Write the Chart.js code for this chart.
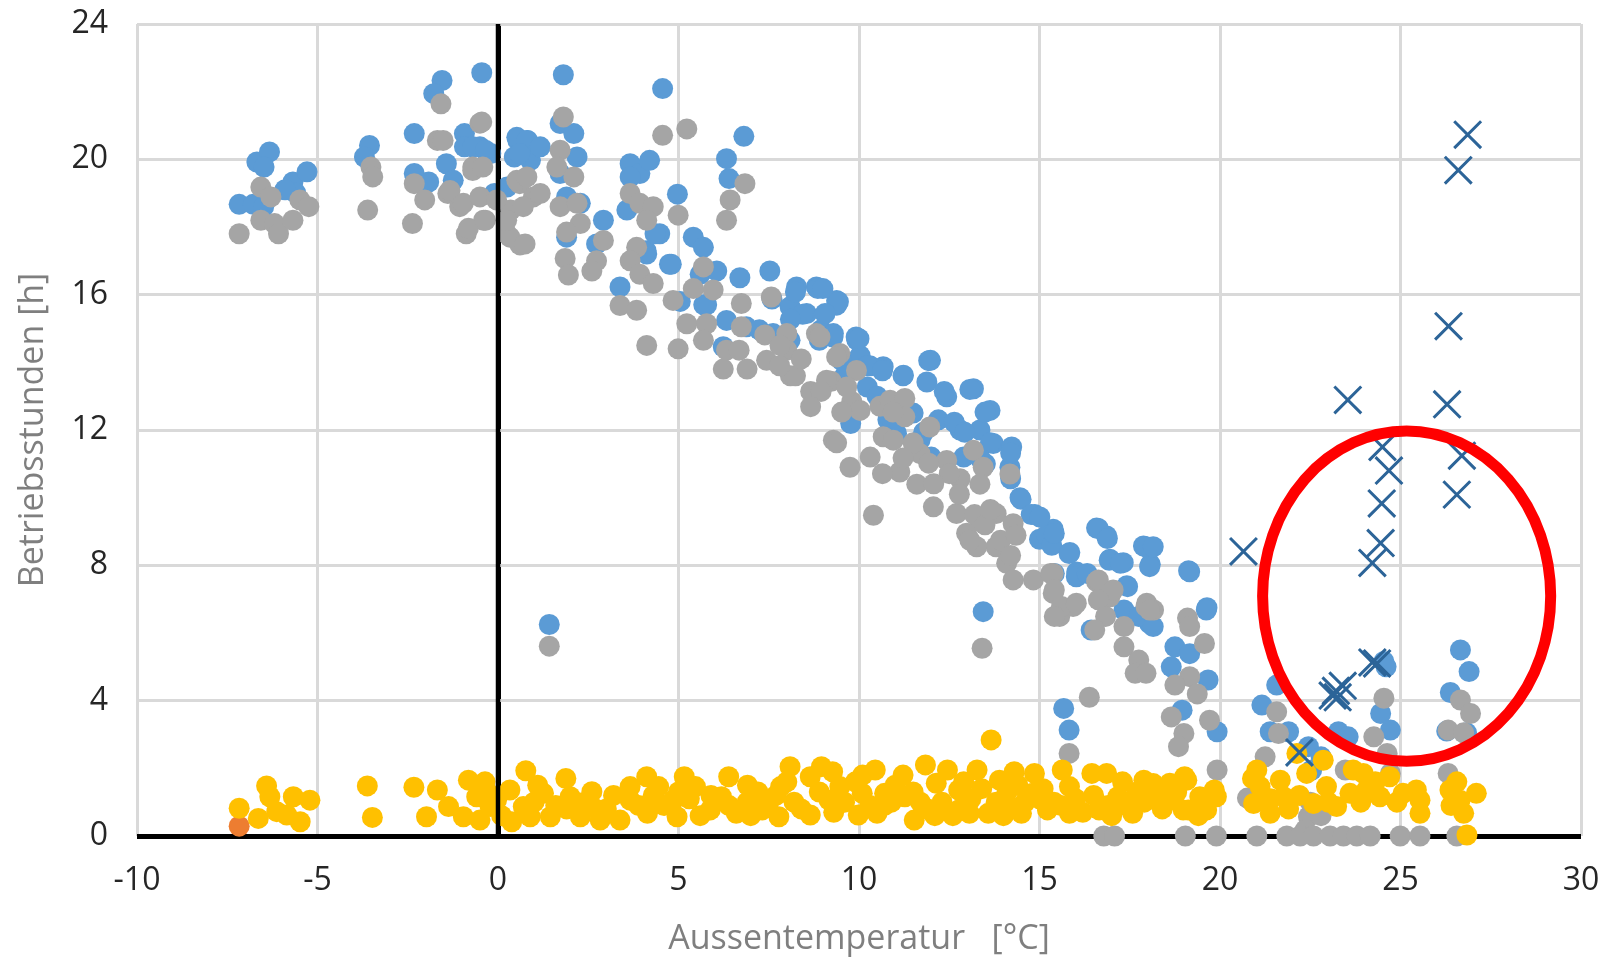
<!DOCTYPE html>
<html>
<head>
<meta charset="utf-8">
<script src="https://cdn.jsdelivr.net/npm/chart.js@4.4.1/dist/chart.umd.min.js"></script>
<style>
  html, body { margin: 0; padding: 0; background: #fff; }
  #wrap { width: 1610px; height: 962px; }
</style>
</head>
<body>
<div id="wrap"><canvas id="chart"></canvas></div>
<script>
// tick labels
const xTicks = [-10, -5, 0, 5, 10, 15, 20, 25, 30];
const yTicks = [0, 4, 8, 12, 16, 20, 24];

// [Aussentemperatur, Betriebsstunden]
const bluePoints = [
  [-7.17,18.67],[-6.78,18.67],[-6.49,18.6],[-6.68,19.92],[-6.33,20.22],[-6.48,19.77],[-5.68,19.33],[-5.29,19.63],[-5.6,19.0],[-5.9,19.1],
  [-3.56,20.41],[-3.7,20.07],[-2.32,20.76],[-2.32,19.58],[-1.92,19.33],[-1.55,22.33],[-1.78,21.94],[-1.43,19.87],
  [-0.93,20.76],[-0.93,20.37],[-0.5,20.37],[-0.2,20.17],[0.25,19.18],[0.55,20.56],[0.82,20.56],[0.45,20.07],[0.9,19.97],[-0.45,22.56],
  [-1.24,19.38],[-0.1,18.99],[-0.7,20.37],[-0.35,20.27],[0.52,20.65],[0.8,20.56],[0.6,20.17],[1.17,20.37],[1.72,21.06],[2.1,20.76],
  [2.19,20.07],[1.72,19.58],[1.9,18.89],[2.28,18.7],[2.92,18.2],[2.73,17.5],[1.9,17.7],[1.81,22.5],
  [3.66,19.87],[3.93,19.58],[4.2,19.97],[3.66,19.48],[3.57,18.5],[4.48,17.8],[4.12,17.2],[4.75,16.9],[5.41,17.7],[5.69,17.4],
  [5.6,16.6],[6.06,16.7],[3.38,16.23],[5.05,15.8],[5.78,15.7],[6.7,16.5],[7.53,16.7],[8.27,16.23],[8.82,16.23],[9.38,15.83],
  [8.09,15.64],[8.55,15.44],[6.33,15.24],[6.88,15.05],[7.62,14.85],[8.09,14.65],[8.9,14.65],[9.28,14.75],[9.92,14.75],[6.24,14.46],
  [4.56,22.09],[6.81,20.68],[6.33,20.02],[6.4,19.43],[4.97,18.97],[4.1,17.3],[4.35,17.8],[4.8,16.9],[5.7,15.7],
  [7.59,15.87],[8.24,16.08],[8.86,16.18],[8.44,15.42],[9.38,15.69],[7.24,14.96],[8.1,15.27],[8.95,14.96],[9.94,14.66],[10.03,14.2],[9.52,14.05],
  [9.43,15.79],[9.0,16.18],[9.06,15.44],[9.29,14.85],[10.0,14.7],[10.67,13.87],[11.23,13.62],[11.98,14.06],[11.88,13.42],[12.43,12.98],
  [13.17,13.22],[13.63,12.58],[12.8,12.0],[13.35,12.0],[13.72,11.6],[14.23,11.5],[14.18,10.9],[14.46,10.0],[14.87,9.5],[15.38,9.07],
  [15.84,8.38],[15.0,8.77],[16.03,7.8],[16.58,9.1],[16.86,8.87],[16.95,8.18],[17.32,8.08],[17.88,8.57],[18.07,8.03],[19.13,7.84],
  [19.64,6.75],[17.42,7.4],[13.44,6.63],[11.04,11.9],[11.69,11.7],[9.77,12.19],[10.23,13.27],
  [10.5,13.0],[11.0,12.8],[11.5,12.5],[12.2,12.3],[12.9,11.2],[13.5,11.0],[12.0,11.2],[10.8,12.3],[9.6,13.6],[10.3,13.9],
  [10.23,13.9],[10.65,13.75],[11.22,13.6],[11.93,14.05],[12.36,13.14],[13.07,13.2],[12.64,12.23],[13.49,12.53],[13.64,11.62],[14.2,11.32],
  [14.2,10.56],[14.49,9.95],[14.77,9.5],[15.2,8.89],[15.34,8.59],[11.79,11.93],[12.93,11.93],[13.35,11.17],[10.94,12.23],
  [15.01,9.43],[15.41,8.94],[15.82,8.35],[16.02,7.66],[16.63,9.09],[16.88,8.79],[16.93,8.15],[17.24,8.06],[17.95,8.55],[18.05,7.96],
  [19.16,7.81],[17.44,7.37],[16.43,6.09],[15.67,3.77],[15.82,3.13],[18.75,5.59],[19.16,5.39],[18.65,5.0],[19.62,6.68],[19.67,4.61],
  [18.95,3.72],[19.92,3.08],[18.05,6.28],[17.34,6.68],[17.75,6.49],[16.32,7.76],[15.41,7.76],[18.15,8.55],[18.15,6.19],
  [21.57,4.46],[21.16,3.87],[21.39,3.08],[21.9,3.08],[22.45,2.64],[23.28,3.08],[23.55,2.93],[22.8,2.34],[24.54,5.16],[24.6,5.0],
  [24.45,3.62],[24.72,3.13],[26.66,5.5],[26.9,4.86],[26.38,4.24],[26.28,3.1],[26.83,3.05],[22.54,1.95],[1.42,6.25]
];

const grayPoints = [
  [-7.17,17.8],[-6.57,19.18],[-6.29,18.89],[-6.57,18.2],[-6.19,18.1],[-6.08,17.8],[-5.68,18.2],[-5.49,18.8],[-5.24,18.6],
  [-3.52,19.77],[-3.47,19.48],[-3.61,18.5],[-2.32,19.28],[-2.03,18.8],[-2.37,18.1],[-1.68,20.56],[-1.58,21.64],[-1.39,18.99],
  [-1.06,18.6],[-0.88,17.8],[-0.7,19.67],[-0.5,21.07],[-0.4,18.2],[0.24,17.8],[0.61,17.47],[0.35,18.5],[0.6,19.28],[0.98,18.89],
  [-1.52,20.56],[-0.45,21.1],[1.81,21.25],[4.56,20.71],[5.23,20.9],[6.84,19.28],[6.43,18.8],[6.33,18.2],[4.99,18.35],[-0.7,19.77],
  [-0.42,19.77],[-1.33,19.08],[-0.96,18.7],[-0.82,17.96],[-0.35,18.2],[-0.5,18.89],[-0.04,18.8],[0.33,17.7],[0.75,17.5],[0.52,19.38],
  [0.8,19.48],[1.17,18.99],[0.7,18.6],[0.24,18.2],[1.72,20.27],[1.63,19.77],[2.1,19.48],[1.72,18.6],[2.19,18.7],[2.28,18.1],
  [1.9,17.85],[2.92,17.6],[1.86,17.07],[1.95,16.58],[2.73,17.0],[2.6,16.7],[3.66,18.99],[3.93,18.7],[4.3,18.6],[4.12,18.2],
  [3.84,17.4],[3.66,17.0],[3.93,16.6],[4.3,16.33],[3.38,15.68],[3.84,15.54],[4.12,14.5],[4.99,14.4],[4.85,15.83],[5.41,16.18],
  [5.69,16.82],[5.96,16.14],[5.23,15.14],[5.78,15.14],[5.69,14.65],[6.74,15.74],[6.74,15.05],[7.57,15.93],[6.33,14.36],[8.0,14.85],
  [8.82,14.85],[9.47,14.26],[8.0,14.36],[7.44,14.06],[6.9,13.8],[6.24,13.8],
  [6.68,14.36],[7.39,14.81],[7.81,14.5],[8.1,13.6],[8.66,13.14],[9.23,13.44],[9.8,12.84],
  [8.92,14.75],[9.38,14.16],[9.93,13.76],[9.1,13.47],[9.66,13.27],[10.03,12.58],[9.29,11.7],[9.75,10.9],[10.4,9.48],[10.31,11.2],
  [10.67,11.8],[10.58,12.7],[10.86,12.88],[11.27,12.93],[11.27,12.39],[10.95,11.7],[11.13,10.76],[11.69,11.3],[11.96,12.09],[11.6,10.4],
  [12.06,9.73],[12.43,11.1],[12.8,10.56],[13.17,11.4],[13.44,10.9],[13.35,10.4],[14.18,10.7],[12.7,9.53],[12.98,8.95],[13.35,9.3],
  [13.8,9.53],[14.27,9.23],[13.8,8.55],[13.26,8.55],[14.09,8.06],[14.27,7.57],[14.83,7.57],[15.38,7.76],[15.38,7.17],[15.93,6.78],
  [16.58,7.52],[16.95,7.07],[17.97,6.88],[18.16,6.68],[15.56,6.49],[19.1,6.44],
  [8.95,13.14],[9.52,12.53],[9.38,11.62],[8.24,13.6],[8.66,12.69],[8.4,14.1],[7.8,13.9],
  [10.94,12.53],[11.5,11.62],[11.93,11.02],[12.5,10.71],[12.78,10.1],[13.2,9.5],[13.49,9.2],[13.92,8.74],[14.2,8.29],[11.22,11.17],
  [10.65,10.71],[13.07,8.74],[12.07,10.41],[13.64,9.65],[14.35,8.89],
  [15.31,7.76],[15.41,7.27],[15.61,6.78],[16.02,6.88],[15.41,6.49],[16.38,4.1],[15.82,2.44],[16.63,7.57],[17.04,7.27],[16.63,6.98],
  [16.83,6.49],[16.53,6.09],[17.34,6.19],[17.34,5.59],[17.75,5.2],[17.65,4.81],[17.95,4.81],[17.95,6.78],[18.05,6.68],[19.16,6.19],
  [19.57,5.69],[19.16,4.71],[18.75,4.46],[19.37,4.2],[18.65,3.52],[19.71,3.42],[19.0,3.03],[18.85,2.64],[19.92,1.95],
  [20.76,1.12],[21.57,3.67],[21.62,3.03],[21.25,2.34],[24.54,4.07],[24.26,2.93],[24.63,2.44],[24.72,1.85],[26.66,4.02],[26.94,3.62],
  [26.32,3.13],[26.75,3.05],[26.32,1.85],[23.47,1.95],[22.45,0.57],[22.36,0.18],[22.5,1.0],[22.8,0.6],
  [16.78,0],[17.08,0],[19.04,0],[19.9,0],[21.02,0],[21.85,0],[22.22,0],[22.59,0],[23.05,0],[23.42,0],[23.79,0],[24.16,0],
  [24.99,0],[25.54,0],[26.56,0],[1.42,5.61],[13.41,5.55]
];

const yellowPoints = [
  [-7.17,0.82],[-6.41,1.48],[-6.32,1.16],[-6.64,0.52],[-6.13,0.72],[-5.67,1.16],[-5.21,1.06],[-5.48,0.42],[-5.85,0.62],[-3.62,1.48],
  [-3.48,0.55],[-2.33,1.44],[-1.68,1.36],[-1.98,0.57],[-1.37,0.87],[-0.82,1.65],[-0.36,1.6],[-0.59,1.16],[-0.96,0.57],[-0.5,0.47],
  [0.33,1.36],[0.38,0.42],[0.77,1.93],[1.26,1.26],[0.89,0.57],[1.45,0.57],[1.88,1.7],[2.0,1.16],[2.6,1.31],[2.28,0.57],
  [2.83,0.47],[3.38,0.47],[3.66,1.46],[3.66,1.06],[4.12,1.75],[-0.22,0.87],[-0.04,1.06],[0.7,0.87],
  [4.45,1.46],[4.14,0.67],[4.96,0.57],[5.16,1.75],[5.47,1.46],[4.86,1.06],[5.88,0.77],[6.39,1.75],[6.19,1.16],[6.91,1.5],
  [6.6,0.67],[7.32,0.77],[7.78,0.57],[7.83,1.46],[8.09,2.05],[8.65,1.75],[8.96,2.05],[9.27,1.9],[8.65,0.62],[9.47,1.46],
  [9.17,1.06],[10.09,1.26],[9.98,0.62],[10.45,1.95],[10.71,1.26],[10.5,0.67],[11.22,1.8],[11.27,1.16],[11.53,0.47],[11.84,2.1],
  [12.14,1.56],[12.45,1.95],[12.76,1.36],[12.76,0.77],[13.06,0.67],[13.27,1.95],[13.58,0.67],[13.66,2.84],[13.89,1.65],[14.19,0.87],
  [14.3,1.9],[14.5,0.67],[14.86,1.85],[14.81,1.26],[15.22,0.77],[15.63,1.95],[15.83,1.46],[15.83,0.67],[16.45,1.85],[16.65,0.77],
  [16.86,1.85],[17.17,1.16],[17.58,0.67],[17.89,1.65],[18.1,1.16],[18.61,1.56],[19.02,1.75],[19.12,0.77],[19.63,1.06],[19.84,1.36],
  [18.15,1.55],[18.61,1.06],[19.08,1.65],[18.98,0.77],[19.44,1.16],[19.9,1.16],[19.63,0.77],[21.02,1.95],[20.93,0.96],[21.11,1.46],
  [21.39,0.67],[21.67,1.65],[21.76,1.16],[22.13,2.44],[22.4,1.85],[22.86,2.24],[22.59,0.96],[22.95,1.46],[23.23,0.87],[23.6,1.26],
  [23.69,1.95],[23.97,1.85],[24.06,1.36],[24.43,1.16],[24.7,1.75],[25.07,1.26],[25.44,1.36],[25.54,0.67],[25.54,1.06],[26.37,1.36],
  [26.65,1.06],[27.1,1.26],[26.75,0.67],[26.84,0.03],[26.56,1.6],
  [1.0,1.0],[1.6,0.9],[2.4,1.0],[3.0,0.8],[3.2,1.2],[4.6,0.9],[5.3,1.1],[5.6,0.6],[6.9,1.0],[7.2,1.3],
  [7.5,1.0],[8.2,1.0],[8.4,0.8],[8.9,1.3],[9.6,1.0],[9.9,1.6],[10.3,0.9],[10.9,1.0],[11.5,1.3],[11.9,0.8],
  [12.3,1.0],[12.6,0.6],[13.1,1.1],[13.4,1.4],[13.8,1.0],[14.1,1.3],[14.6,1.0],[15.1,1.4],[15.4,1.0],[16.0,1.1],
  [16.2,0.7],[16.9,0.9],[17.3,1.6],[17.4,0.9],[17.9,1.0],[18.4,0.8],[20.9,1.7],[21.4,1.1],[21.9,0.8],[22.2,1.2],
  [23.0,1.0],[23.9,1.0],[24.3,1.6],[24.9,1.0],[26.4,0.9],
  [-0.3,1.3],[0.1,0.6],[1.1,1.5],[1.9,0.8],[2.7,0.8],[3.9,0.9],[4.3,1.2],[5.0,1.3],[5.9,1.2],[6.4,0.9],
  [7.0,0.6],[7.7,1.2],[8.0,1.6],[9.3,0.7],[10.1,1.8],[10.7,0.9],[11.0,1.5],[11.7,1.0],[12.1,0.6],[12.9,1.6],
  [14.0,0.6],[14.4,1.5],[15.0,1.1],[15.6,0.9],[16.5,1.2],[17.0,0.6],[17.7,1.3],[18.3,1.3],[18.8,1.3],[19.4,0.6]
];

const orangePoints = [[-7.17,0.29]];

const crossPoints = [
  [26.86,20.73],[26.6,19.68],[26.33,15.07],[26.29,12.76],[23.54,12.89],[24.5,11.5],[24.68,10.8],[26.7,11.24],[24.48,9.83],[26.56,10.09],
  [24.45,8.66],[24.22,8.07],[20.65,8.41],[24.22,5.13],[24.35,5.1],[23.21,4.29],[23.12,4.15],[23.4,4.44],[23.26,4.1],[22.2,2.47]
];

// red ring drawn around the cooling-season crosses (data units)
const highlight = { x: 25.17, y: 7.09, rx: 3.99, ry: 4.88 };

const toXY = pts => pts.map(p => ({ x: p[0], y: p[1] }));

const fontFamily = "'Open Sans', 'Liberation Sans', sans-serif";

const overlay = {
  id: 'overlay',
  afterDatasetsDraw(chart) {
    const { ctx, chartArea, scales: { x, y } } = chart;
    ctx.save();
    // vertical axis at 0 °C sits on top of the points
    const x0 = x.getPixelForValue(0);
    ctx.strokeStyle = '#000';
    ctx.lineWidth = 4.5;
    ctx.beginPath();
    ctx.moveTo(x0, chartArea.top);
    ctx.lineTo(x0, chartArea.bottom);
    ctx.stroke();

    const cx = x.getPixelForValue(highlight.x);
    const cy = y.getPixelForValue(highlight.y);
    const rx = Math.abs(x.getPixelForValue(highlight.x + highlight.rx) - cx);
    const ry = Math.abs(y.getPixelForValue(highlight.y + highlight.ry) - cy);
    ctx.strokeStyle = '#ff0000';
    ctx.lineWidth = 11;
    ctx.beginPath();
    ctx.ellipse(cx, cy, rx, ry, 0, 0, Math.PI * 2);
    ctx.stroke();
    ctx.restore();
  }
};

const gridColor = c => (c.tick && c.tick.value === 0) ? '#000000' : '#d9d9d9';
const gridWidth = c => (c.tick && c.tick.value === 0) ? 5 : 3;

const ctx = document.getElementById('chart').getContext('2d');
const chart = new Chart(ctx, {
  type: 'scatter',
  data: {
    datasets: [
      {
        label: 'Kühlen',
        data: toXY(crossPoints),
        pointStyle: 'crossRot',
        pointRadius: 19,
        borderColor: '#2c6498',
        backgroundColor: '#2c6498',
        pointBorderWidth: 3,
        order: 0
      },
      {
        label: 'Pumpe',
        data: toXY(yellowPoints),
        pointRadius: 10.5,
        pointBorderWidth: 0,
        backgroundColor: '#ffc000',
        borderColor: '#ffc000',
        order: 1
      },
      {
        label: 'Sonstige',
        data: toXY(orangePoints),
        pointRadius: 10.5,
        pointBorderWidth: 0,
        backgroundColor: '#ed7d31',
        borderColor: '#ed7d31',
        order: 2
      },
      {
        label: 'Brenner',
        data: toXY(grayPoints),
        pointRadius: 10.5,
        pointBorderWidth: 0,
        backgroundColor: '#a5a5a5',
        borderColor: '#a5a5a5',
        order: 3
      },
      {
        label: 'Heizung',
        data: toXY(bluePoints),
        pointRadius: 10.5,
        pointBorderWidth: 0,
        backgroundColor: '#5b9bd5',
        borderColor: '#5b9bd5',
        order: 4
      }
    ]
  },
  options: {
    responsive: true,
    maintainAspectRatio: false,
    animation: false,
    clip: false,
    layout: { padding: { left: 0, right: 29, top: 24, bottom: 0 } },
    plugins: {
      legend: { display: false },
      tooltip: { enabled: false }
    },
    elements: { point: { hoverRadius: 10.5 } },
    scales: {
      x: {
        type: 'linear',
        min: -10,
        max: 30,
        afterBuildTicks: s => { s.ticks = xTicks.map(v => ({ value: v })); },
        afterFit: s => { s.height = 126; s.paddingLeft = 0; s.paddingRight = 0; },
        border: { display: false },
        grid: { color: gridColor, lineWidth: gridWidth, drawTicks: false },
        ticks: {
          color: '#262626',
          font: { family: fontFamily, size: 32 },
          padding: 26,
          maxRotation: 0,
          autoSkip: false,
          callback: v => String(v)
        },
        title: {
          display: true,
          text: 'Aussentemperatur   [°C]',
          color: '#7f7f7f',
          font: { family: fontFamily, size: 34 },
          padding: { top: 0, bottom: 2 }
        }
      },
      y: {
        type: 'linear',
        min: 0,
        max: 24,
        afterBuildTicks: s => { s.ticks = yTicks.map(v => ({ value: v })); },
        afterFit: s => { s.width = 137; s.paddingTop = 0; s.paddingBottom = 0; },
        border: { display: false },
        grid: { color: gridColor, lineWidth: gridWidth, drawTicks: false },
        ticks: {
          color: '#262626',
          font: { family: fontFamily, size: 32 },
          padding: 29,
          autoSkip: false,
          callback: v => String(v)
        },
        title: {
          display: true,
          text: 'Betriebsstunden [h]',
          color: '#7f7f7f',
          font: { family: fontFamily, size: 34 },
          padding: { top: 13, bottom: 0 }
        }
      }
    }
  },
  plugins: [overlay]
});
</script>
</body>
</html>
